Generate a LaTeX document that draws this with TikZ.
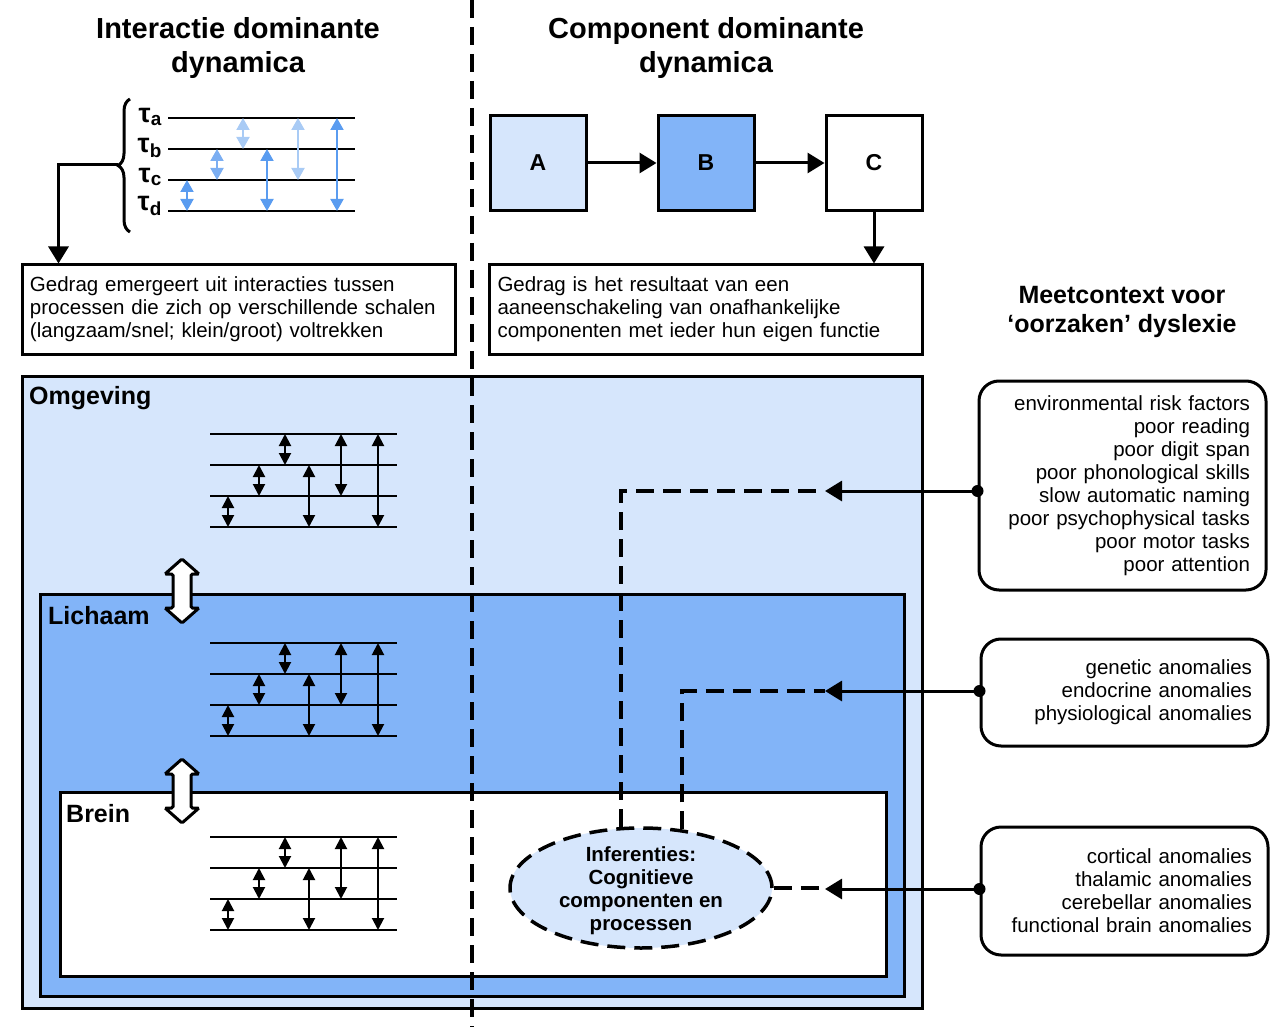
\documentclass[tikz,border=0pt]{standalone}
\usepackage{fontspec}
\setmainfont{Liberation Sans}
\usetikzlibrary{arrows.meta,positioning,shapes.geometric,decorations.pathreplacing,calc}

\definecolor{paleblue}{HTML}{D6E6FC}
\definecolor{midblue}{HTML}{82B4F8}
\definecolor{taublue}{HTML}{5A9CF0}
\definecolor{taumid}{HTML}{7BAEF2}
\definecolor{taulight}{HTML}{A9CBF5}

\begin{document}
\begin{tikzpicture}[
    x=1pt, y=-1pt,
    title/.style={font=\fontsize{29}{34}\selectfont\bfseries, align=center},
    headtext/.style={font=\fontsize{25}{29}\selectfont\bfseries, align=center},
    body/.style={font=\fontsize{20.5}{23}\selectfont},
    descbox/.style={draw, line width=3pt, minimum width=433pt, minimum height=89pt, text width=417pt, inner xsep=8pt, align=left, body},
    compbox/.style={draw, line width=3pt, minimum width=96pt, minimum height=95pt, font=\fontsize{23}{27}\selectfont\bfseries},
    region/.style={draw, line width=3pt, inner sep=0pt},
    regionlabel/.style={font=\fontsize{25}{29}\selectfont\bfseries, anchor=west, inner sep=0pt},
    causebox/.style={draw, line width=3pt, rounded corners=20pt, minimum width=287pt, text width=255pt, inner xsep=16pt, align=right, body},
    taulabel/.style={font=\fontsize{27}{30}\selectfont\bfseries, anchor=east, inner sep=0pt},
    feed/.style={-{Triangle[length=17pt,width=20pt]}, line width=3pt},
    dashline/.style={line width=3.5pt, dash pattern=on 18pt off 9pt},
    level/.style={line width=2pt},
    link/.style={{Triangle[length=12pt,width=12pt]}-{Triangle[length=12pt,width=12pt]}, line width=2pt},
    blink/.style={{Triangle[length=12pt,width=13pt]}-{Triangle[length=12pt,width=13pt]}, line width=2pt}
  ]
    \useasboundingbox (0,0) rectangle (1286,1027);

    % titles
    \node[title] (lefttitle) at (238,48) {Interactie dominante\\dynamica};
    \node[title] (righttitle) at (706,48) {Component dominante\\dynamica};
    \node[headtext] (meettitle) at (1122,312) {Meetcontext voor\\‘oorzaken’ dyslexie};

    % time scales
    \foreach \yy in {118,149,180,211}
      \draw[level] (168,\yy) -- (355,\yy);
    \node[taulabel] (ta) at (162,117) {τ\textsubscript{a}};
    \node[taulabel] (tb) at (162,148) {τ\textsubscript{b}};
    \node[taulabel] (tc) at (162,177) {τ\textsubscript{c}};
    \node[taulabel] (td) at (162,206) {τ\textsubscript{d}};
    \draw[blink, taublue] (187,180) -- (187,211);
    \draw[blink, taumid] (217,149) -- (217,180);
    \draw[blink, taulight] (243,118) -- (243,149);
    \draw[blink, taublue] (267,149) -- (267,211);
    \draw[blink, taulight] (298,118) -- (298,180);
    \draw[blink, taublue] (337,118) -- (337,211);
    \draw[line width=3pt, decorate, decoration={brace, amplitude=12pt}] (130,232) -- (130,99);
    \coordinate (brtip) at (118,165);

    % components
    \node[compbox, fill=paleblue] (A) at (538,163) {A};
    \node[compbox, fill=midblue] (B) at (706,163) {B};
    \node[compbox, fill=white] (C) at (874,163) {C};

    % descriptions
    \node[descbox] (lbox) at (238.5,309.5) {Gedrag emergeert uit interacties tussen\\processen die zich op verschillende schalen\\(langzaam/snel; klein/groot) voltrekken};
    \node[descbox] (rbox) at (706,309.5) {Gedrag is het resultaat van een\\aaneenschakeling van onafhankelijke\\componenten met ieder hun eigen functie};

    \draw[feed] (brtip) -| ($(lbox.north west)+(38,0)$);
    \draw[feed] (A) -- (B);
    \draw[feed] (B) -- (C);
    \draw[feed] (C) -- (C |- rbox.north);

    % nested levels
    \node[region, fill=paleblue, minimum width=900pt, minimum height=632pt] (omg) at (472,692) {};
    \node[region, fill=midblue, minimum width=864pt, minimum height=402pt] (lich) at (472,795) {};
    \node[region, fill=white, minimum width=826pt, minimum height=184pt] (brein) at (473,884) {};
    \node[regionlabel] (omglbl) at (29,398) {Omgeving};
    \node[regionlabel] (lichlbl) at (48,616) {Lichaam};
    \node[regionlabel] (breinlbl) at (66,814) {Brein};

    \foreach \yy in {434,643,837} {
      \foreach \k in {0,1,2,3}
        \draw[level] (210,\yy+31*\k) -- (397,\yy+31*\k);
      \draw[link] (228,\yy+62) -- (228,\yy+93);
      \draw[link] (259,\yy+31) -- (259,\yy+62);
      \draw[link] (285,\yy) -- (285,\yy+31);
      \draw[link] (309,\yy+31) -- (309,\yy+93);
      \draw[link] (341,\yy) -- (341,\yy+62);
      \draw[link] (378,\yy) -- (378,\yy+93);
    }

    % exchange between levels
    \foreach \yy in {559,759}
      \draw[line width=3pt, fill=white, rounded corners=1.5pt]
        (182,\yy) -- (199,\yy+15) -- (191,\yy+15) -- (191,\yy+49) -- (199,\yy+49)
        -- (182,\yy+64) -- (165,\yy+49) -- (173,\yy+49) -- (173,\yy+15) -- (165,\yy+15) -- cycle;

    % inference
    \node[ellipse, draw, dashline, fill=paleblue, minimum width=262pt, minimum height=120pt, inner sep=0pt] (inf) at (641,888) {};
    \node[font=\fontsize{20.5}{23}\selectfont\bfseries, align=center] (inftext) at (641,891) {Inferenties:\\Cognitieve\\componenten en\\processen};

    % divider
    \coordinate (divtop) at (472,0);
    \coordinate (divbot) at (472,1027);
    \draw[dashline] (divtop) -- (divbot);

    % measurement context
    \node[causebox, minimum height=209pt] (r1) at (1122.5,485.5) {environmental risk factors\\poor reading\\poor digit span\\poor phonological skills\\slow automatic naming\\poor psychophysical tasks\\poor motor tasks\\poor attention};
    \node[causebox, minimum height=107pt] (r2) at (1124.5,692.5) {genetic anomalies\\endocrine anomalies\\physiological anomalies};
    \node[causebox, minimum height=128pt] (r3) at (1124.5,891) {cortical anomalies\\thalamic anomalies\\cerebellar anomalies\\functional brain anomalies};

    \coordinate (j1) at (825,491);
    \coordinate (j2) at (825,691);
    \coordinate (j3) at (825,889);
    \draw[dashline] (inf.108) |- (j1);
    \draw[dashline] (inf.55) |- (j2);
    \draw[dashline] (inf.east) -- (inf.east -| j3);
    \draw[feed] (r1.west |- j1) -- (j1);
    \draw[feed] (r2.west |- j2) -- (j2);
    \draw[feed] (r3.west |- j3) -- (j3);
    \fill (r1.west |- j1) circle[radius=6];
    \fill (r2.west |- j2) circle[radius=6];
    \fill (r3.west |- j3) circle[radius=6];
  \end{tikzpicture}
\end{document}
